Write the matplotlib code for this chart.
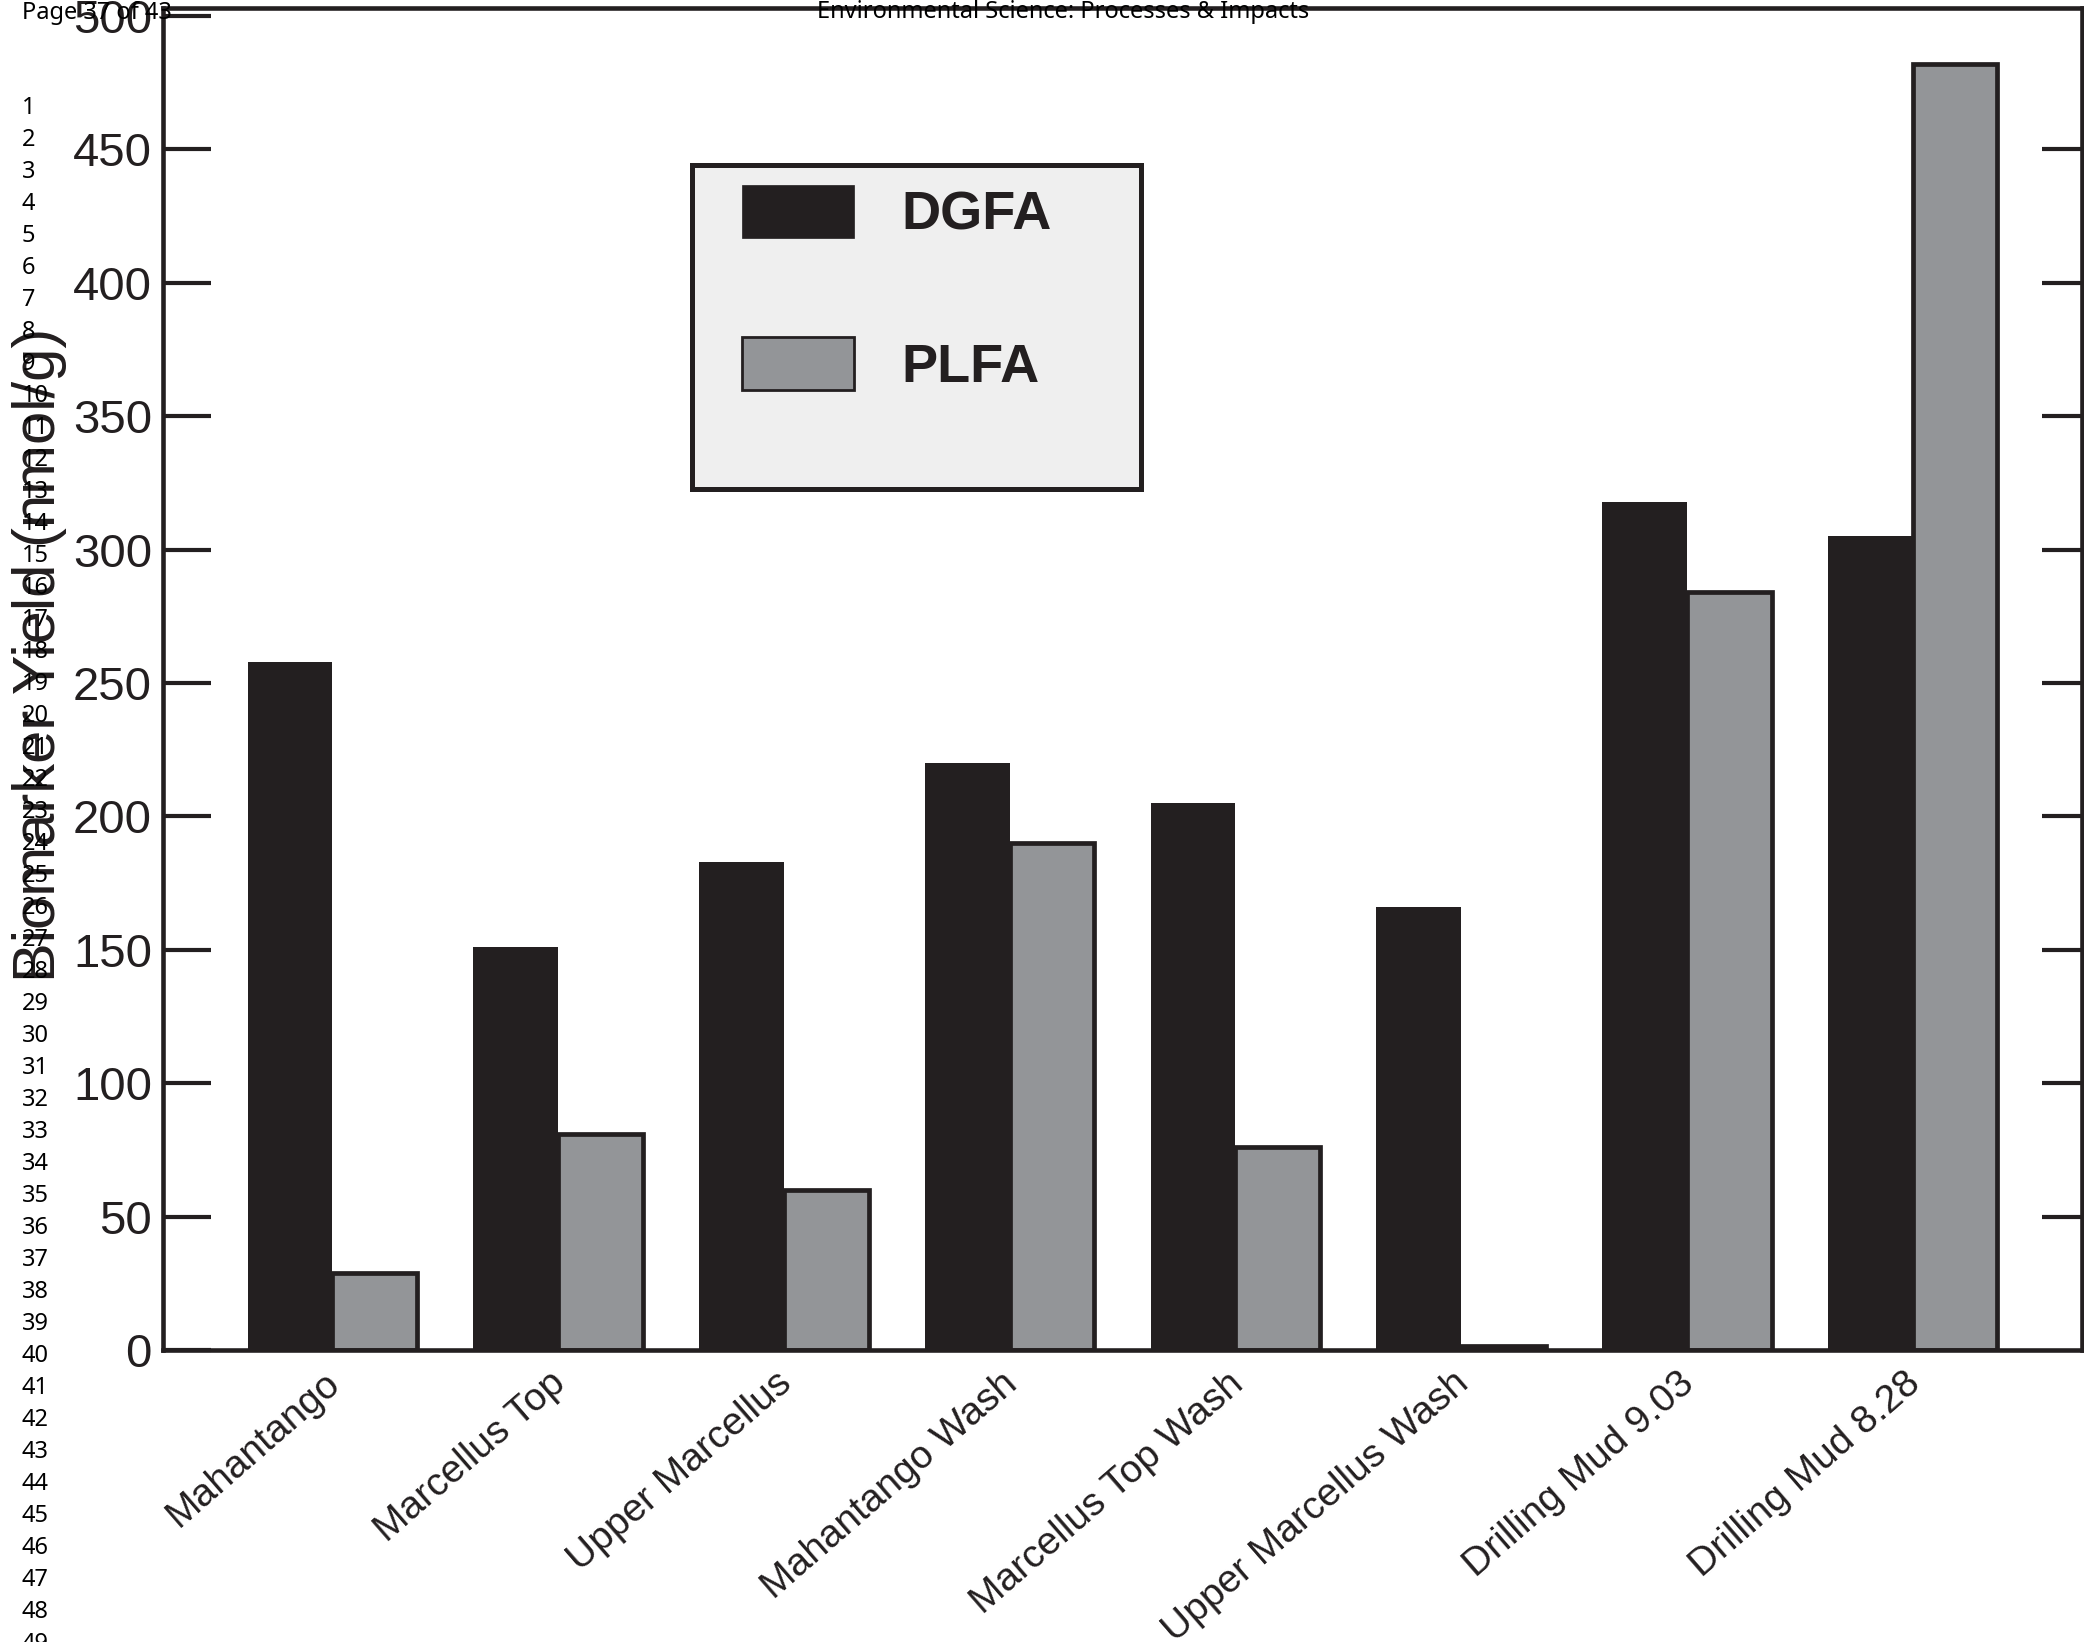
import numpy as np
import matplotlib
matplotlib.use('Agg')
import matplotlib.pyplot as plt
from matplotlib.patches import Patch, Rectangle
from matplotlib.transforms import ScaledTranslation

# biomarker yields per sample (nmol/g)
samples = ['Mahantango', 'Marcellus Top', 'Upper Marcellus', 'Mahantango Wash',
           'Marcellus Top Wash', 'Upper Marcellus Wash', 'Drilling Mud 9.03',
           'Drilling Mud 8.28']
dgfa = [258, 151, 183, 220, 205, 166, 318, 305]
plfa = [29, 81, 60, 190, 76, 1.5, 284, 482]
yticks = [0, 50, 100, 150, 200, 250, 300, 350, 400, 450, 500]
inner_ticks = [50, 100, 150, 200, 250, 300, 350, 400, 450]

ink = '#231f20'
grey = '#939598'
W, H = 2084, 1642

plt.rcParams['font.family'] = 'Liberation Sans'

fig = plt.figure(figsize=(W / 100, H / 100), dpi=100)
ax = fig.add_axes([163 / W, 1 - 1350 / H, 1919 / W, 1342 / H])

x = np.arange(len(samples))
w = 0.375
ax.bar(x - w / 2, dgfa, w, color=ink, linewidth=0, zorder=2)
ax.bar(x + w / 2, plfa, w, color=grey, edgecolor=ink, linewidth=3.4, zorder=2)

ax.set_xlim(-0.75, 7.75)
ax.set_ylim(0, 503)

for s in ax.spines.values():
    s.set_linewidth(3.3)
    s.set_color(ink)

ax.set_yticks(yticks)
ax.set_yticklabels([str(v) for v in yticks])
ax.tick_params(axis='y', direction='in', length=34.5, width=3, color=ink,
               labelsize=34, labelcolor=ink, pad=8)
# no marks at the ends, just the labels
ticks = ax.yaxis.get_major_ticks()
ticks[0].tick1line.set_visible(False)
ticks[-1].tick1line.set_visible(False)

# shorter marks on the right side
ax2 = ax.twinx()
ax2.set_ylim(ax.get_ylim())
ax2.set_yticks(inner_ticks)
ax2.tick_params(axis='y', direction='in', length=29, width=3, color=ink,
                labelright=False)
for s in ax2.spines.values():
    s.set_visible(False)

ax.set_xticks(x)
ax.set_xticklabels(samples, rotation=41, ha='right', va='top',
                   rotation_mode='anchor', fontsize=28, color=ink)
ax.tick_params(axis='x', length=0, pad=11)
nudge = ScaledTranslation(-0.09, 0, fig.dpi_scale_trans)
for lab in ax.get_xticklabels():
    lab.set_transform(lab.get_transform() + nudge)

ax.set_ylabel('Biomarker Yield (nmol/g)', fontsize=43, color=ink)
ax.yaxis.set_label_coords(-0.050, 0.518)

# legend box
box = Rectangle((691.5 / W, 1 - 488.5 / H), 449 / W, 323 / H,
                transform=fig.transFigure, facecolor='#efefef', edgecolor=ink,
                linewidth=3.6, zorder=4, clip_on=False)
ax.add_patch(box)
handles = [Patch(facecolor=ink, edgecolor=ink, linewidth=0.5, label='DGFA'),
           Patch(facecolor=grey, edgecolor=ink, linewidth=2, label='PLFA')]
leg = ax.legend(handles=handles, loc='upper left',
                bbox_to_anchor=(742 / W, 1 - 185 / H),
                bbox_transform=fig.transFigure, frameon=False, borderpad=0,
                borderaxespad=0, handlelength=2.07, handleheight=1.13,
                handletextpad=0.88, labelspacing=1.78, labelcolor=ink,
                prop={'weight': 'bold', 'size': 39})
leg.set_zorder(5)

# page furniture
page_font = dict(family='Noto Sans', fontsize=17, color='black', va='baseline')
fig.text(22 / W, 1 - 19 / H, 'Page 37 of 43', ha='left', **page_font)
fig.text(1063 / W, 1 - 18 / H, 'Environmental Science: Processes & Impacts',
         ha='center', **page_font)
for n in range(1, 50):
    fig.text(22 / W, 1 - (114 + (n - 1) * 32) / H, str(n), ha='left', **page_font)

fig.savefig('out.png', dpi=100)
